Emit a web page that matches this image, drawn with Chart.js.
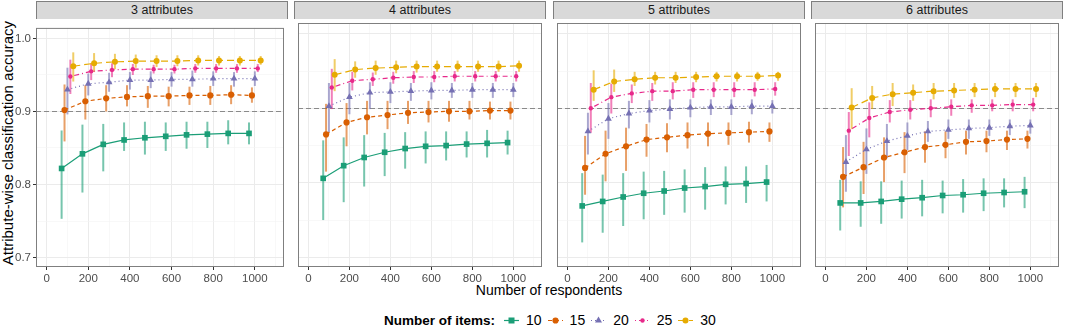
<!DOCTYPE html>
<html>
<head>
<meta charset="utf-8">
<script src="https://cdn.jsdelivr.net/npm/chart.js@4.4.1/dist/chart.umd.min.js"></script>
<style>
    body { margin: 0; background: #fff; font-family: "Liberation Sans", Arial, sans-serif; }
    #wrap { position: relative; width: 1065px; height: 332px; overflow: hidden; }
    canvas { position: absolute; top: 19px; }
    .strip {
        position: absolute; top: 1px; height: 18px; width: 252px; box-sizing: border-box;
        background: #d9d9d9; border: 1px solid #7f7f7f; border-bottom: none;
        font-size: 12.5px; line-height: 16px; text-align: center; color: #1a1a1a;
    }
    #ytitle {
        position: absolute; left: -122px; top: 135px; width: 260px; height: 16px;
        transform: rotate(-90deg); text-align: center; font-size: 15px; line-height: 16px; color: #000;
    }
    #xtitle {
        position: absolute; left: 36px; width: 1026px; top: 282px;
        text-align: center; font-size: 14px; line-height: 16px; color: #000;
    }
    #legend {
        position: absolute; left: 384px; top: 312px; height: 16px;
        display: flex; align-items: center; font-size: 14px; color: #000;
    }
    #legend .title { font-weight: bold; font-size: 13.5px; margin-right: 9px; }
    #legend svg { margin-right: 7px; }
    #legend .lab { margin-right: 6px; }
</style>
</head>
<body>
<div id="wrap">
    <div id="ytitle">Attribute-wise classification accuracy</div>
    <div id="xtitle">Number of respondents</div>
    <div id="legend"></div>
</div>
<script>
const respondents = [100, 200, 300, 400, 500, 600, 700, 800, 900, 1000];
const itemCounts = ["10", "15", "20", "25", "30"];
const dodge = [-28, -14, 0, 14, 28];
const facetLabels = ["3 attributes", "4 attributes", "5 attributes", "6 attributes"];
const xTicks = [0, 200, 400, 600, 800, 1000];
const xMinor = [100, 300, 500, 700, 900, 1100];
const yTicks = [0.7, 0.8, 0.9, 1.0];
const yMinor = [0.75, 0.85, 0.95];
const refLine = 0.9;

// mean accuracy, one row per number of items (10, 15, 20, 25, 30)
const acc3 = [
    [0.822, 0.842, 0.855, 0.861, 0.864, 0.866, 0.868, 0.869, 0.870, 0.870],
    [0.902, 0.914, 0.918, 0.920, 0.921, 0.921, 0.922, 0.922, 0.923, 0.922],
    [0.930, 0.938, 0.940, 0.943, 0.943, 0.944, 0.944, 0.945, 0.945, 0.945],
    [0.948, 0.955, 0.957, 0.958, 0.958, 0.958, 0.959, 0.959, 0.959, 0.959],
    [0.962, 0.966, 0.968, 0.969, 0.969, 0.969, 0.970, 0.970, 0.970, 0.970],
];
const lo3 = [
    [0.753, 0.789, 0.818, 0.846, 0.841, 0.846, 0.849, 0.850, 0.855, 0.855],
    [0.859, 0.889, 0.900, 0.907, 0.905, 0.907, 0.909, 0.909, 0.910, 0.912],
    [0.896, 0.922, 0.927, 0.930, 0.932, 0.934, 0.934, 0.935, 0.934, 0.935],
    [0.924, 0.943, 0.947, 0.950, 0.952, 0.952, 0.953, 0.953, 0.953, 0.954],
    [0.941, 0.954, 0.958, 0.960, 0.961, 0.962, 0.963, 0.963, 0.963, 0.964],
];
const hi3 = [
    [0.874, 0.882, 0.883, 0.885, 0.886, 0.885, 0.886, 0.886, 0.888, 0.885],
    [0.937, 0.936, 0.936, 0.936, 0.935, 0.934, 0.934, 0.935, 0.936, 0.933],
    [0.960, 0.952, 0.953, 0.954, 0.955, 0.954, 0.956, 0.955, 0.954, 0.955],
    [0.971, 0.966, 0.966, 0.965, 0.964, 0.964, 0.965, 0.965, 0.965, 0.965],
    [0.981, 0.980, 0.979, 0.978, 0.977, 0.977, 0.977, 0.976, 0.976, 0.976],
];

const acc4 = [
    [0.806, 0.823, 0.834, 0.841, 0.846, 0.849, 0.850, 0.852, 0.853, 0.854],
    [0.865, 0.881, 0.888, 0.891, 0.894, 0.895, 0.896, 0.896, 0.897, 0.897],
    [0.903, 0.915, 0.921, 0.922, 0.923, 0.924, 0.924, 0.925, 0.925, 0.925],
    [0.928, 0.937, 0.939, 0.941, 0.942, 0.942, 0.943, 0.943, 0.943, 0.943],
    [0.945, 0.952, 0.954, 0.955, 0.956, 0.956, 0.956, 0.956, 0.956, 0.957],
];
const lo4 = [
    [0.750, 0.774, 0.795, 0.809, 0.819, 0.826, 0.830, 0.834, 0.834, 0.838],
    [0.815, 0.849, 0.865, 0.872, 0.879, 0.881, 0.882, 0.885, 0.885, 0.885],
    [0.868, 0.892, 0.899, 0.907, 0.910, 0.912, 0.914, 0.914, 0.914, 0.915],
    [0.899, 0.924, 0.930, 0.933, 0.934, 0.935, 0.936, 0.936, 0.936, 0.936],
    [0.923, 0.941, 0.945, 0.947, 0.948, 0.949, 0.949, 0.949, 0.949, 0.949],
];
const hi4 = [
    [0.857, 0.861, 0.864, 0.867, 0.868, 0.869, 0.869, 0.869, 0.871, 0.870],
    [0.906, 0.907, 0.910, 0.910, 0.910, 0.910, 0.910, 0.910, 0.909, 0.909],
    [0.934, 0.934, 0.935, 0.935, 0.934, 0.935, 0.934, 0.934, 0.934, 0.934],
    [0.953, 0.949, 0.948, 0.949, 0.950, 0.950, 0.950, 0.950, 0.950, 0.950],
    [0.966, 0.963, 0.964, 0.964, 0.964, 0.964, 0.964, 0.964, 0.964, 0.964],
];

const acc5 = [
    [0.769, 0.775, 0.781, 0.786, 0.789, 0.793, 0.795, 0.798, 0.799, 0.801],
    [0.820, 0.839, 0.849, 0.858, 0.861, 0.864, 0.866, 0.867, 0.868, 0.869],
    [0.869, 0.886, 0.893, 0.897, 0.899, 0.901, 0.902, 0.902, 0.903, 0.903],
    [0.900, 0.915, 0.920, 0.923, 0.923, 0.925, 0.925, 0.925, 0.925, 0.926],
    [0.925, 0.936, 0.939, 0.941, 0.941, 0.942, 0.943, 0.943, 0.943, 0.944],
];
const lo5 = [
    [0.720, 0.733, 0.742, 0.751, 0.757, 0.760, 0.764, 0.771, 0.773, 0.775],
    [0.784, 0.802, 0.816, 0.835, 0.841, 0.846, 0.849, 0.851, 0.854, 0.855],
    [0.838, 0.859, 0.873, 0.881, 0.885, 0.888, 0.891, 0.891, 0.892, 0.893],
    [0.867, 0.893, 0.907, 0.910, 0.912, 0.914, 0.915, 0.915, 0.916, 0.917],
    [0.910, 0.922, 0.930, 0.932, 0.934, 0.935, 0.936, 0.936, 0.937, 0.937],
];
const hi5 = [
    [0.813, 0.811, 0.813, 0.815, 0.816, 0.818, 0.821, 0.822, 0.822, 0.824],
    [0.863, 0.870, 0.874, 0.879, 0.880, 0.881, 0.881, 0.881, 0.882, 0.881],
    [0.894, 0.907, 0.910, 0.911, 0.912, 0.912, 0.912, 0.912, 0.912, 0.911],
    [0.934, 0.933, 0.932, 0.934, 0.935, 0.935, 0.935, 0.935, 0.935, 0.935],
    [0.951, 0.952, 0.949, 0.949, 0.949, 0.949, 0.949, 0.949, 0.949, 0.949],
];

const acc6 = [
    [0.773, 0.773, 0.775, 0.778, 0.780, 0.783, 0.784, 0.786, 0.787, 0.788],
    [0.808, 0.821, 0.834, 0.841, 0.848, 0.851, 0.855, 0.856, 0.858, 0.859],
    [0.828, 0.845, 0.856, 0.863, 0.869, 0.871, 0.873, 0.874, 0.876, 0.877],
    [0.870, 0.887, 0.895, 0.898, 0.900, 0.902, 0.904, 0.904, 0.905, 0.905],
    [0.901, 0.914, 0.919, 0.921, 0.923, 0.924, 0.925, 0.926, 0.926, 0.926],
];
const lo6 = [
    [0.736, 0.741, 0.745, 0.752, 0.755, 0.759, 0.760, 0.762, 0.767, 0.766],
    [0.767, 0.785, 0.801, 0.813, 0.827, 0.833, 0.838, 0.841, 0.844, 0.846],
    [0.788, 0.812, 0.833, 0.844, 0.855, 0.859, 0.859, 0.863, 0.864, 0.866],
    [0.836, 0.861, 0.881, 0.885, 0.888, 0.890, 0.894, 0.896, 0.896, 0.896],
    [0.872, 0.899, 0.903, 0.910, 0.912, 0.914, 0.915, 0.915, 0.915, 0.915],
];
const hi6 = [
    [0.804, 0.802, 0.802, 0.803, 0.804, 0.803, 0.805, 0.806, 0.806, 0.808],
    [0.848, 0.855, 0.861, 0.868, 0.869, 0.869, 0.870, 0.870, 0.870, 0.870],
    [0.864, 0.873, 0.879, 0.881, 0.883, 0.885, 0.885, 0.885, 0.885, 0.885],
    [0.895, 0.908, 0.911, 0.911, 0.912, 0.912, 0.912, 0.912, 0.912, 0.914],
    [0.927, 0.930, 0.934, 0.932, 0.934, 0.934, 0.934, 0.934, 0.934, 0.934],
];

const panels = [
    { acc: acc3, lo: lo3, hi: hi3 },
    { acc: acc4, lo: lo4, hi: hi4 },
    { acc: acc5, lo: lo5, hi: hi5 },
    { acc: acc6, lo: lo6, hi: hi6 },
];

// styling
const colors = ["#1B9E77", "#D95F02", "#7570B3", "#E7298A", "#E6AB02"];
const shapes = ["rect", "circle", "triangle", "circle", "circle"];
const radii = [4, 3.1, 3.9, 2.2, 3];
const dashes = [[], [4, 3], [1, 3], [1, 3, 5, 3], [7, 4]];
const panelLeft = [36, 294, 553, 811];
const panelWidth = 252;
const plotHeight = 248;

function fade(hex, a) {
    const n = parseInt(hex.slice(1), 16);
    return `rgba(${(n >> 16) & 255}, ${(n >> 8) & 255}, ${n & 255}, ${a})`;
}

const isOn = (v, list) => list.some((t) => Math.abs(v - t) < 1e-6);

const errorBars = {
    id: "errorBars",
    beforeDatasetsDraw(chart) {
        const { ctx, scales } = chart;
        ctx.save();
        ctx.lineWidth = 2;
        chart.data.datasets.forEach((ds) => {
            ctx.strokeStyle = fade(ds.borderColor, 0.6);
            ds.data.forEach((pt, i) => {
                const x = scales.x.getPixelForValue(pt.x);
                ctx.beginPath();
                ctx.moveTo(x, scales.y.getPixelForValue(ds.errLo[i]));
                ctx.lineTo(x, scales.y.getPixelForValue(ds.errHi[i]));
                ctx.stroke();
            });
        });
        ctx.restore();
    },
};

const refLinePlugin = {
    id: "refLine",
    beforeDatasetsDraw(chart) {
        const { ctx, chartArea, scales } = chart;
        const y = Math.round(scales.y.getPixelForValue(refLine)) + 0.5;
        ctx.save();
        ctx.strokeStyle = "#8a8a8a";
        ctx.lineWidth = 1.2;
        ctx.setLineDash([5, 3]);
        ctx.beginPath();
        ctx.moveTo(chartArea.left, y);
        ctx.lineTo(chartArea.right, y);
        ctx.stroke();
        ctx.restore();
    },
};

const panelBorder = {
    id: "panelBorder",
    afterDraw(chart) {
        const { ctx, chartArea } = chart;
        ctx.save();
        ctx.strokeStyle = "#7f7f7f";
        ctx.lineWidth = 1;
        ctx.strokeRect(chartArea.left + 0.5, chartArea.top + 0.5,
            chartArea.right - chartArea.left - 1, chartArea.bottom - chartArea.top - 1);
        ctx.restore();
    },
};

function makePanel(p) {
    const wrap = document.getElementById("wrap");
    const showY = p === 0;
    const left = showY ? 0 : panelLeft[p];
    const yWidth = showY ? panelLeft[0] : 0;

    const strip = document.createElement("div");
    strip.className = "strip";
    strip.style.left = panelLeft[p] + "px";
    strip.textContent = facetLabels[p];
    wrap.appendChild(strip);

    const canvas = document.createElement("canvas");
    canvas.width = yWidth + panelWidth;
    canvas.height = plotHeight + 24;
    canvas.style.left = left + "px";
    wrap.appendChild(canvas);

    const data = panels[p];

    new Chart(canvas, {
        type: "line",
        data: {
            datasets: itemCounts.map((label, s) => ({
                label,
                data: respondents.map((r, i) => ({ x: r + dodge[s], y: data.acc[s][i] })),
                errLo: data.lo[s],
                errHi: data.hi[s],
                borderColor: colors[s],
                backgroundColor: colors[s],
                borderWidth: 1.2,
                borderDash: dashes[s],
                pointStyle: shapes[s],
                pointRadius: radii[s],
                pointHoverRadius: radii[s],
                pointBorderWidth: 0,
                tension: 0,
                order: 4 - s,
            })),
        },
        options: {
            responsive: false,
            animation: false,
            events: [],
            layout: { padding: 0 },
            plugins: { legend: { display: false }, tooltip: { enabled: false } },
            scales: {
                x: {
                    type: "linear",
                    min: -51,
                    max: 1140,
                    border: { display: false },
                    afterBuildTicks(scale) {
                        scale.ticks = xTicks.concat(xMinor).sort((a, b) => a - b).map((v) => ({ value: v }));
                    },
                    grid: {
                        color: (c) => (isOn(c.tick.value, xTicks) ? "#ebebeb" : "#f4f4f4"),
                        lineWidth: (c) => (isOn(c.tick.value, xTicks) ? 1 : 0.6),
                        tickColor: (c) => (isOn(c.tick.value, xTicks) ? "#333333" : "rgba(0,0,0,0)"),
                        tickLength: 3,
                    },
                    ticks: {
                        autoSkip: false,
                        maxRotation: 0,
                        padding: 2,
                        color: "#4d4d4d",
                        font: { family: "Liberation Sans", size: 11.5 },
                        callback: (v) => (isOn(v, xTicks) ? String(v) : ""),
                    },
                    afterFit(scale) { scale.height = 24; },
                },
                y: {
                    type: "linear",
                    min: 0.687,
                    max: 1.0145,
                    border: { display: false },
                    afterBuildTicks(scale) {
                        scale.ticks = yTicks.concat(yMinor).sort((a, b) => a - b).map((v) => ({ value: v }));
                    },
                    grid: {
                        color: (c) => (isOn(c.tick.value, yTicks) ? "#ebebeb" : "#f4f4f4"),
                        lineWidth: (c) => (isOn(c.tick.value, yTicks) ? 1 : 0.6),
                        tickColor: (c) => (showY && isOn(c.tick.value, yTicks) ? "#333333" : "rgba(0,0,0,0)"),
                        drawTicks: showY,
                        tickLength: 3,
                    },
                    ticks: {
                        display: showY,
                        autoSkip: false,
                        padding: 2,
                        color: "#4d4d4d",
                        font: { family: "Liberation Sans", size: 11.5 },
                        callback: (v) => (isOn(v, yTicks) ? v.toFixed(1) : ""),
                    },
                    afterFit(scale) { scale.width = yWidth; },
                },
            },
        },
        plugins: [refLinePlugin, errorBars, panelBorder],
    });
}

function legendKey(s) {
    const dash = dashes[s].join(" ");
    const c = colors[s];
    let mark;
    if (shapes[s] === "rect") {
        mark = `<rect x="4.5" y="3.5" width="6" height="6" fill="${c}"/>`;
    } else if (shapes[s] === "triangle") {
        mark = `<polygon points="7.5,2.5 11,8.5 4,8.5" fill="${c}"/>`;
    } else {
        mark = `<circle cx="7.5" cy="6.5" r="${radii[s]}" fill="${c}"/>`;
    }
    return `<svg width="15" height="13"><line x1="0" y1="6.5" x2="15" y2="6.5" stroke="${c}" stroke-width="1.2" stroke-dasharray="${dash}"/>${mark}</svg>`;
}

function buildLegend() {
    const el = document.getElementById("legend");
    let html = `<span class="title">Number of items:</span>`;
    itemCounts.forEach((n, s) => {
        html += legendKey(s) + `<span class="lab">${n}</span>`;
    });
    el.innerHTML = html;
}

panels.forEach((_, p) => makePanel(p));
buildLegend();
</script>
</body>
</html>
